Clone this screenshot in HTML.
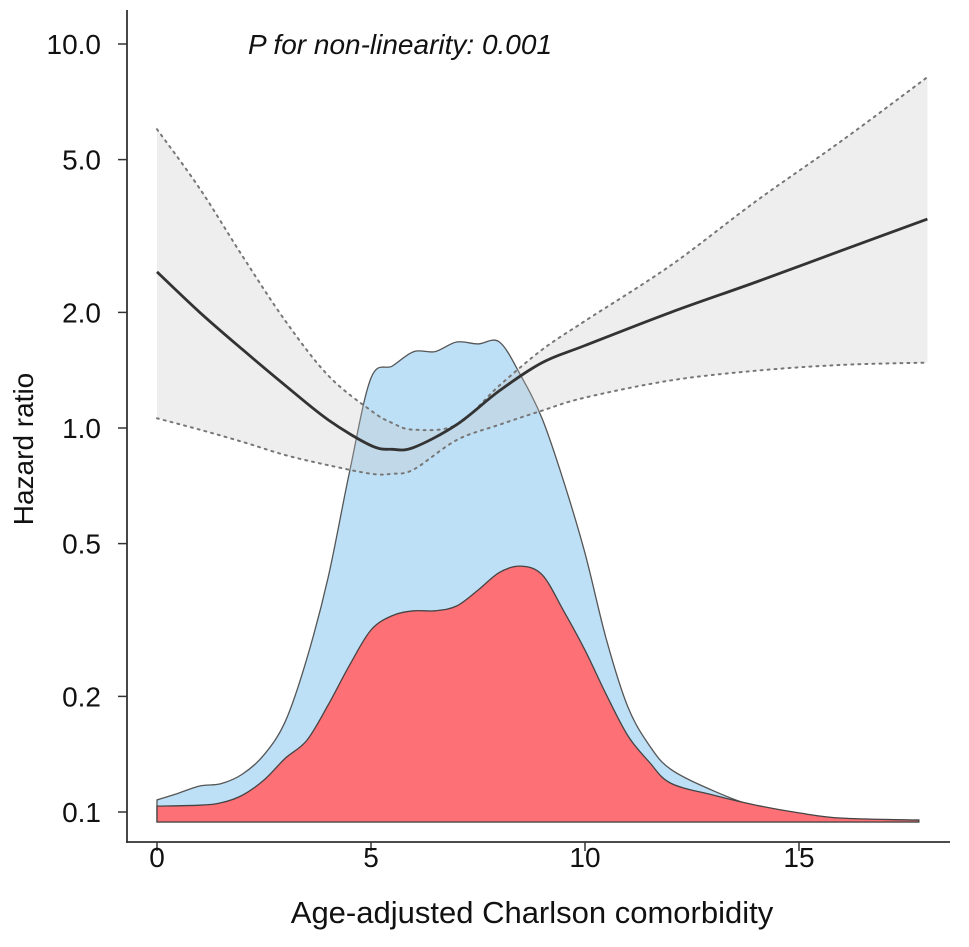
<!DOCTYPE html>
<html><head><meta charset="utf-8"><style>
body{margin:0;background:#fff}
svg text{font-family:"Liberation Sans",sans-serif;fill:#111}
</style></head><body>
<svg id="chart" width="969" height="942" viewBox="0 0 969 942" xmlns="http://www.w3.org/2000/svg"></svg>
<script>
const xTicks=[0,5,10,15];
const yTicks=[0.1,0.2,0.5,1.0,2.0,5.0,10.0];
const yTickLabels=["0.1","0.2","0.5","1.0","2.0","5.0","10.0"];
const hrX=[0,1,2,3,4,5,5.5,6,7,8,9,10,12,14,16,18];
const hrVal=[2.55,2.0,1.6,1.29,1.05,0.9,0.88,0.89,1.02,1.25,1.48,1.64,2.0,2.4,2.9,3.5];
const hrUpper=[6.0,4.2,2.8,1.9,1.37,1.11,1.03,0.99,1.02,1.29,1.6,1.9,2.65,3.9,5.6,8.2];
const hrLower=[1.06,0.99,0.92,0.85,0.8,0.76,0.76,0.78,0.93,1.02,1.11,1.2,1.33,1.41,1.46,1.48];
const densAllX=[0,0.5,1,1.5,2,2.5,3,3.5,4,4.5,5,5.5,6,6.5,7,7.5,8,8.5,9,9.5,10,10.5,11,11.5,12,13,14,15,16,17,17.8];
const densAll=[.046,.06,.075,.08,.1,.14,.21,.34,.51,.73,.925,.95,.98,.98,1.0,.996,1.0,.93,.84,.71,.56,.38,.24,.16,.11,.065,.032,.015,.006,.004,.004];
const densEvtX=[0,1,1.5,2,2.5,3,3.5,4,4.5,5,5.5,6,6.5,7,7.5,8,8.5,9,9.5,10,10.5,11,11.5,12,13,14,15,16,17.8];
const densEvt=[.033,.035,.04,.056,.0875,.133,.17,.244,.327,.4,.43,.44,.44,.45,.483,.52,.533,.515,.44,.358,.265,.18,.125,.081,.056,.035,.019,.008,.004];

const svg=document.getElementById('chart');
const NS='http://www.w3.org/2000/svg';
const X=v=>157+v*42.8;
const Y=v=>428-Math.log10(v)*384;
const D=d=>822-d*480;
function mk(tag,attrs,parent){const e=document.createElementNS(NS,tag);for(const k in attrs)e.setAttribute(k,attrs[k]);(parent||svg).appendChild(e);return e;}
function smooth(pts){let d='M'+pts[0][0]+','+pts[0][1];for(let i=0;i<pts.length-1;i++){const p0=pts[Math.max(0,i-1)],p1=pts[i],p2=pts[i+1],p3=pts[Math.min(pts.length-1,i+2)];
const c1=[p1[0]+(p2[0]-p0[0])/6,p1[1]+(p2[1]-p0[1])/6],c2=[p2[0]-(p3[0]-p1[0])/6,p2[1]-(p3[1]-p1[1])/6];
d+=` C${c1[0]},${c1[1]} ${c2[0]},${c2[1]} ${p2[0]},${p2[1]}`;}return d;}
function area(xs,vs){const pts=xs.map((x,i)=>[X(x),D(vs[i])]);return smooth(pts)+` L${X(xs[xs.length-1])},822 L${X(xs[0])},822 Z`;}

let e;
e=mk('path',{d:area(densAllX,densAll),fill:'#bde0f7',stroke:'#555','stroke-width':1.3});

e=mk('path',{d:area(densEvtX,densEvt),fill:'#fd7075',stroke:'#444','stroke-width':1.3});


const up=hrX.map((x,i)=>[X(x),Y(hrUpper[i])]);
const lo=hrX.map((x,i)=>[X(x),Y(hrLower[i])]).reverse();
const loPath=smooth(lo).replace(/^M/,'L');
e=mk('path',{d:smooth(up)+' '+loPath+' Z',fill:'rgba(200,200,200,0.3)',stroke:'none'});

e=mk('path',{d:smooth(up),fill:'none',stroke:'#777','stroke-width':2,'stroke-dasharray':'2,5','stroke-linecap':'round'});

e=mk('path',{d:smooth(hrX.map((x,i)=>[X(x),Y(hrLower[i])])),fill:'none',stroke:'#777','stroke-width':2,'stroke-dasharray':'2,5','stroke-linecap':'round'});

e=mk('path',{d:smooth(hrX.map((x,i)=>[X(x),Y(hrVal[i])])),fill:'none',stroke:'#333','stroke-width':2.8});


e=mk('line',{x1:127,y1:10,x2:127,y2:843,stroke:'#333','stroke-width':1.8});

e=mk('line',{x1:126,y1:842,x2:950,y2:842,stroke:'#333','stroke-width':1.8});

yTicks.forEach((v,i)=>{
 const t=mk('line',{x1:118,x2:127,y1:Y(v),y2:Y(v),stroke:'#333','stroke-width':1.5});
 
 const l=mk('text',{x:101,y:Y(v)+10,'text-anchor':'end','font-size':28});l.textContent=yTickLabels[i];
 
});
xTicks.forEach(v=>{
 const t=mk('line',{x1:X(v),x2:X(v),y1:842,y2:851,stroke:'#333','stroke-width':1.5});
 
 const l=mk('text',{x:X(v),y:867,'text-anchor':'middle','font-size':28});l.textContent=v;
 
});
e=mk('text',{x:532,y:923,'text-anchor':'middle','font-size':31});e.textContent='Age-adjusted Charlson comorbidity';

e=mk('text',{x:0,y:0,'text-anchor':'middle','font-size':28,transform:'translate(33,449) rotate(-90)'});e.textContent='Hazard ratio';

e=mk('text',{x:248,y:54,'font-size':28,'font-style':'italic'});e.textContent='P for non-linearity: 0.001';

</script>
</body></html>
